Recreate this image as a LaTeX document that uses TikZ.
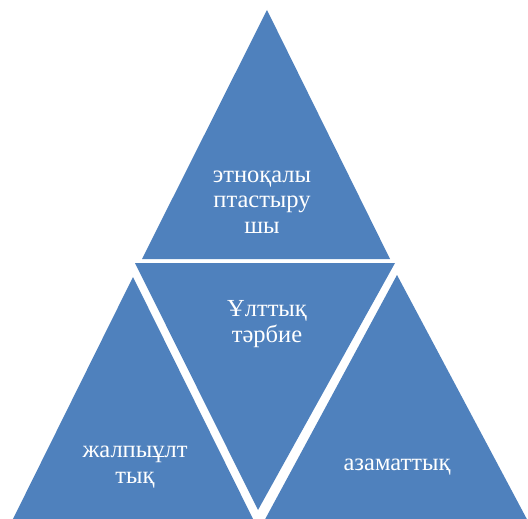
\documentclass[tikz,border=0pt]{standalone}
\usepackage{fontspec}
\setmainfont{Liberation Serif}
\newfontfamily\kzserif{Liberation Serif}
\definecolor{segblue}{RGB}{79,129,189}
\begin{document}
\begin{tikzpicture}[x=1pt,y=-1pt,
  seg/.style={fill=segblue},
  lbl/.style={text=white,align=center,inner sep=0pt,anchor=base,
    font=\kzserif\fontsize{24.5}{25.5}\selectfont}]
\useasboundingbox (0,0) rectangle (528,519);
\clip (0,0) rectangle (528,519);
\fill[white] (0,0) rectangle (528,519);
% segments
\fill[seg] (267,10) -- (142,259) -- (390,259) -- cycle;
\fill[seg] (135,263) -- (395,263) -- (258,510) -- cycle;
\fill[seg] (133,277) -- (10,525) -- (256,525) -- cycle;
\fill[seg] (397,275) -- (262,525) -- (530,525) -- cycle;
% labels (anchor = baseline of last line)
\node[lbl] (top) at (262,233) {этноқалы\\птастыру\\шы};
\node[lbl] (mid) at (267,342) {Ұлттық\\тәрбие};
\node[lbl] (left) at (135,483) {жалпыұлт\\тық};
\node[lbl] (right) at (397,470) {азаматтық};
\end{tikzpicture}
\end{document}
